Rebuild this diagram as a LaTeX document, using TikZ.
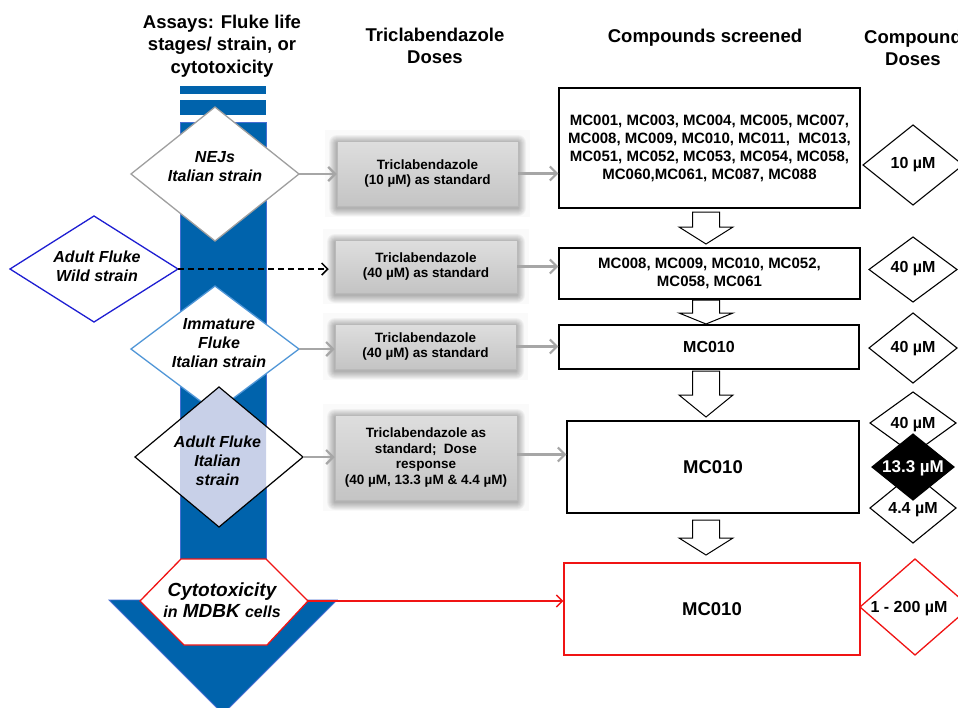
\documentclass[tikz,border=0pt]{standalone}
\usepackage{fontspec}
\setmainfont{Liberation Sans}
\usetikzlibrary{arrows.meta}
\definecolor{barblue}{RGB}{0,99,172}
\definecolor{barline}{RGB}{70,110,210}
\definecolor{wildblue}{RGB}{30,30,210}
\definecolor{immblue}{RGB}{80,150,215}
\definecolor{arrgray}{RGB}{166,166,166}
\definecolor{boxtop}{RGB}{222,222,222}
\definecolor{boxbot}{RGB}{196,196,196}
\definecolor{redline}{RGB}{240,20,20}
\definecolor{lav}{RGB}{200,208,232}
\newcommand{\myfs}[2]{\fontsize{#1}{#2}\selectfont}
\newcommand{\mydiam}[6]{%
  \draw[#6] ({#2-#4},#3) -- (#2,{#3-#5}) -- ({#2+#4},#3) -- (#2,{#3+#5}) -- cycle;
  \coordinate (#1-w) at ({#2-#4},#3);
  \coordinate (#1-e) at ({#2+#4},#3);}
\newcommand{\myglow}[4]{%
  \fill[black!2] ({#1-12},{#2-11}) rectangle ({#3+12},{#4+11});
  \foreach \i in {1,...,8}{%
    \fill[black,opacity=0.04,rounded corners=\i pt] ({#1-\i},{#2-\i+2}) rectangle ({#3+\i},{#4+\i+2});}}
\newcommand{\myblk}[4]{%
  \filldraw[draw=black, fill=white, line width=1] ({#1-13.5},#2) -- ({#1+13.5},#2) -- ({#1+13.5},#3) -- ({#1+27},#3) -- (#1,#4) -- ({#1-27},#3) -- ({#1-13.5},#3) -- cycle;}
\begin{document}
\begin{tikzpicture}[x=1pt,y=-1pt,
  hdr/.style={font=\myfs{18.5}{22.5}\bfseries, align=center, inner sep=0},
  dtext/.style={font=\myfs{16}{19}\bfseries\itshape, align=center, inner sep=0},
  tbox/.style={draw=gray!55, line width=0.5, top color=boxtop, bottom color=boxbot, inner sep=0, align=center, font=\myfs{13.5}{15.5}\bfseries},
  cbox/.style={draw=black, line width=1.1, fill=white, inner sep=0, align=center, font=\myfs{15}{18}\bfseries},
  rdia/.style={draw=black, fill=white, line width=1.1},
  rtext/.style={font=\myfs{16}{18}\bfseries, inner sep=0},
  garrow/.style={draw=arrgray, line width=2.2, -{Straight Barb[length=7pt,width=14pt]}},
]
\useasboundingbox (0,0) rectangle (958,707);
\clip (0,0) rectangle (958,707);
\fill[white] (0,0) rectangle (958,707);

% headers
\node[hdr] (h1) at (222,46) {Assays: Fluke life\\stages/ strain, or\\cytotoxicity};
\node[hdr] (h2) at (435,46) {Triclabendazole\\Doses};
\node[hdr] (h3) at (705,38) {Compounds screened};
\node[hdr] (h4) at (913,48) {Compound\\Doses};

% blue bar and arrow head
\fill[barblue] (180,86) rectangle (266,94);
\fill[barblue] (180,100) rectangle (266,115);
\filldraw[fill=barblue, draw=barline, line width=0.6] (180,122) rectangle (266,600);
\filldraw[fill=barblue, draw=barline, line width=0.8] (109,600) -- (337,600) -- (223,714) -- cycle;

% left diamonds
\mydiam{nej}{215}{174}{84}{67}{draw=gray!75, fill=white, line width=1.3}
\node[dtext] (nej) at (215,167) {NEJs\\Italian strain};
\mydiam{wild}{94}{269}{84}{53}{draw=wildblue, fill=white, line width=1.3}
\node[dtext] (wild) at (97,266) {Adult Fluke\\Wild strain};
\mydiam{imm}{215}{349}{84}{63}{draw=immblue, fill=white, line width=1.3}
\node[dtext] (imm) at (219,343) {Immature\\Fluke\\Italian strain};
\fill[white] (135,457) -- (219,387) -- (303,457) -- (219,527) -- cycle;
\begin{scope}
  \clip (180,122) rectangle (266,600);
  \fill[lav] (135,457) -- (219,387) -- (303,457) -- (219,527) -- cycle;
\end{scope}
\mydiam{ita}{219}{457}{84}{70}{draw=black, line width=1.2}
\node[dtext] (ita) at (217.5,461) {Adult Fluke\\Italian\\strain};

% hexagon
\filldraw[draw=redline, fill=white, line width=1.3] (181,559) -- (266,559) -- (308,601) -- (267,645) -- (184,645) -- (140,601) -- cycle;
\coordinate (hex-e) at (308,601);
\node[font=\myfs{19}{21.5}\bfseries\itshape, align=center, inner sep=0] (cyto) at (222,600) {Cytotoxicity\\{\fontsize{16}{21.5}\selectfont in} MDBK {\fontsize{16}{21.5}\selectfont cells}};

% triclabendazole boxes
\myglow{337}{141}{518}{206}
\node[tbox, minimum width=181, minimum height=65] (tb1) at (427.5,173.5) {Triclabendazole\\(10 µM) as standard};
\myglow{335}{240}{517}{293}
\node[tbox, minimum width=182, minimum height=53] (tb2) at (426,266.5) {Triclabendazole\\(40 µM) as standard};
\myglow{335}{324}{516}{369}
\node[tbox, minimum width=181, minimum height=45] (tb3) at (425.5,346.5) {Triclabendazole\\(40 µM) as standard};
\myglow{335}{415}{517}{500}
\node[tbox, minimum width=182, minimum height=85] (tb4) at (426,457.5) {Triclabendazole as\\standard;\ \ Dose\\response\\(40 µM, 13.3 µM \& 4.4 µM)};

% compound boxes
\node[cbox, minimum width=301, minimum height=120] (cA) at (709.5,148) {MC001, MC003, MC004, MC005, MC007,\\MC008, MC009, MC010, MC011, \ MC013,\\MC051, MC052, MC053, MC054, MC058,\\MC060,MC061, MC087, MC088};
\node[cbox, minimum width=301, minimum height=51] (cB) at (709.5,273.5) {MC008, MC009, MC010, MC052,\\MC058, MC061};
\node[cbox, minimum width=300, minimum height=44, font=\myfs{16}{18}\bfseries] (cC) at (709,347) {MC010};
\node[cbox, minimum width=292, minimum height=92, font=\myfs{18.5}{20}\bfseries] (cD) at (713,467) {MC010};
\node[cbox, draw=redline, minimum width=296, minimum height=92, font=\myfs{18.5}{20}\bfseries] (cE) at (712,609) {MC010};

% block arrows
\myblk{706}{212}{227}{244}
\myblk{706}{300}{313}{324}
\myblk{706}{371}{395}{417}
\myblk{706}{520}{538}{555}

% right dose diamonds
\mydiam{d1}{913}{165}{50}{40}{rdia}
\node[rtext] (d1t) at (913,165) {10 µM};
\mydiam{d2}{913}{269.5}{44}{32.5}{rdia}
\node[rtext] (d2t) at (913,269) {40 µM};
\mydiam{d3}{913}{348}{44}{35}{rdia}
\node[rtext] (d3t) at (913,349) {40 µM};
\mydiam{d4}{913}{423}{43}{31}{rdia}
\node[rtext] (d4t) at (913,425) {40 µM};
\mydiam{d6}{913}{508}{43}{35}{rdia}
\node[rtext] (d6t) at (913,510) {4.4 µM};
\mydiam{d5}{913}{467}{41}{33}{draw=black, fill=black, line width=1.1}
\node[rtext, text=white, font=\myfs{17}{18}\bfseries] (d5t) at (913,468) {13.3 µM};
\mydiam{d7}{915}{607}{55}{48}{draw=redline, fill=white, line width=1.3}
\node[rtext] (d7t) at (909,609) {1 - 200 µM};

% connectors
\draw[garrow] (nej-e) -- (nej-e -| tb1.west);
\draw[garrow] (tb1.east) -- (tb1.east -| cA.west);
\draw[black, line width=1.5, dash pattern=on 6pt off 4pt, -{Straight Barb[length=6pt,width=12pt]}, shorten >=6pt] (wild-e) -- (wild-e -| tb2.west);
\draw[garrow] (tb2.east) -- (tb2.east -| cB.west);
\draw[garrow] (imm-e) -- (imm-e -| tb3.west);
\draw[garrow] (tb3.east) -- (tb3.east -| cC.west);
\draw[garrow] (ita-e) -- (ita-e -| tb4.west);
\draw[garrow] ([yshift=3pt]tb4.east) -- ([yshift=3pt]tb4.east -| cD.west);
\draw[draw=redline, line width=1.5, -{Straight Barb[length=6pt,width=12pt]}] (hex-e) -- (hex-e -| cE.west);
\end{tikzpicture}
\end{document}
